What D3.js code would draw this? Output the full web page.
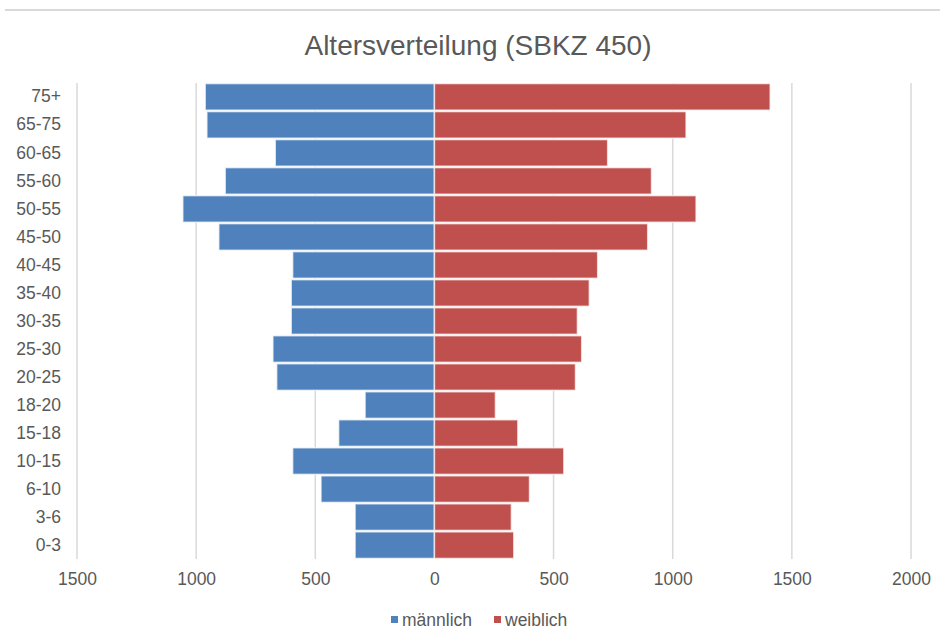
<!DOCTYPE html>
<html><head><meta charset="utf-8">
<script src="https://cdn.jsdelivr.net/npm/d3@7"></script>
<style>body{margin:0;background:#fff}svg{display:block}text{font-family:"Liberation Sans",Arial,sans-serif}</style>
</head><body>
<script>
const categories = ["75+","65-75","60-65","55-60","50-55","45-50","40-45","35-40","30-35","25-30","20-25","18-20","15-18","10-15","6-10","3-6","0-3"];
const maleValues = [962,955,668,878,1056,905,595,601,601,678,662,291,402,595,476,333,333];
const femaleValues = [1409,1056,727,911,1098,895,685,650,600,618,592,256,350,543,399,323,333];
const tickValues = [-1500,-1000,-500,0,500,1000,1500,2000];
const seriesNames = ["männlich","weiblich"];
const colors = ["#4F81BD","#C0504D"];

const W=940,H=638;
const svg=d3.select("body").append("svg").attr("width",W).attr("height",H);
svg.append("line").attr("x1",5).attr("x2",940).attr("y1",10).attr("y2",10).attr("stroke","#d9d9d9").attr("stroke-width",2);
svg.append("text").attr("x",478).attr("y",55).attr("text-anchor","middle").attr("font-size",28).attr("fill","#595959").text("Altersverteilung (SBKZ 450)");

const x=d3.scaleLinear().domain([-1500,2000]).range([77,911]);
const y=d3.scaleBand().domain(categories).range([83,559]).paddingInner(0.05).paddingOuter(0.02);

// gridlines
svg.append("g").selectAll("line").data(tickValues).join("line")
  .attr("x1",d=>x(d)).attr("x2",d=>x(d)).attr("y1",83).attr("y2",559)
  .attr("stroke","#d9d9d9").attr("stroke-width",1.5);

// x axis labels
const xAxis=d3.axisBottom(x).tickValues(tickValues).tickSize(0).tickPadding(0).tickFormat(d=>Math.abs(d));
const gx=svg.append("g").attr("transform","translate(0,573)").call(xAxis);
gx.select(".domain").remove();
gx.selectAll("text").attr("font-size",17.5).attr("fill","#595959").attr("font-family","Liberation Sans, Arial, sans-serif");

// y axis labels
const yAxis=d3.axisLeft(y).tickSize(0).tickPadding(0);
const gy=svg.append("g").attr("transform","translate(61,0)").call(yAxis);
gy.select(".domain").remove();
gy.selectAll("text").attr("font-size",17.5).attr("fill","#595959").attr("font-family","Liberation Sans, Arial, sans-serif");

// bars
svg.append("g").selectAll("rect").data(categories).join("rect")
  .attr("x",(d,i)=>x(-maleValues[i])).attr("width",(d,i)=>x(0)-x(-maleValues[i]))
  .attr("y",d=>y(d)).attr("height",y.bandwidth())
  .attr("fill",colors[0]).attr("stroke","#ffffff").attr("stroke-opacity",0.7).attr("stroke-width",1.5);
svg.append("g").selectAll("rect").data(categories).join("rect")
  .attr("x",x(0)).attr("width",(d,i)=>x(femaleValues[i])-x(0))
  .attr("y",d=>y(d)).attr("height",y.bandwidth())
  .attr("fill",colors[1]).attr("stroke","#ffffff").attr("stroke-opacity",0.7).attr("stroke-width",1.5);

// legend
const lg=svg.append("g");
const legendX=[391,494];
seriesNames.forEach((n,i)=>{
  lg.append("rect").attr("x",legendX[i]).attr("y",616).attr("width",7).attr("height",7).attr("fill",colors[i]);
  lg.append("text").attr("x",legendX[i]+11).attr("y",626).attr("font-size",17.5).attr("fill","#595959").text(n);
});
</script>
</body></html>
